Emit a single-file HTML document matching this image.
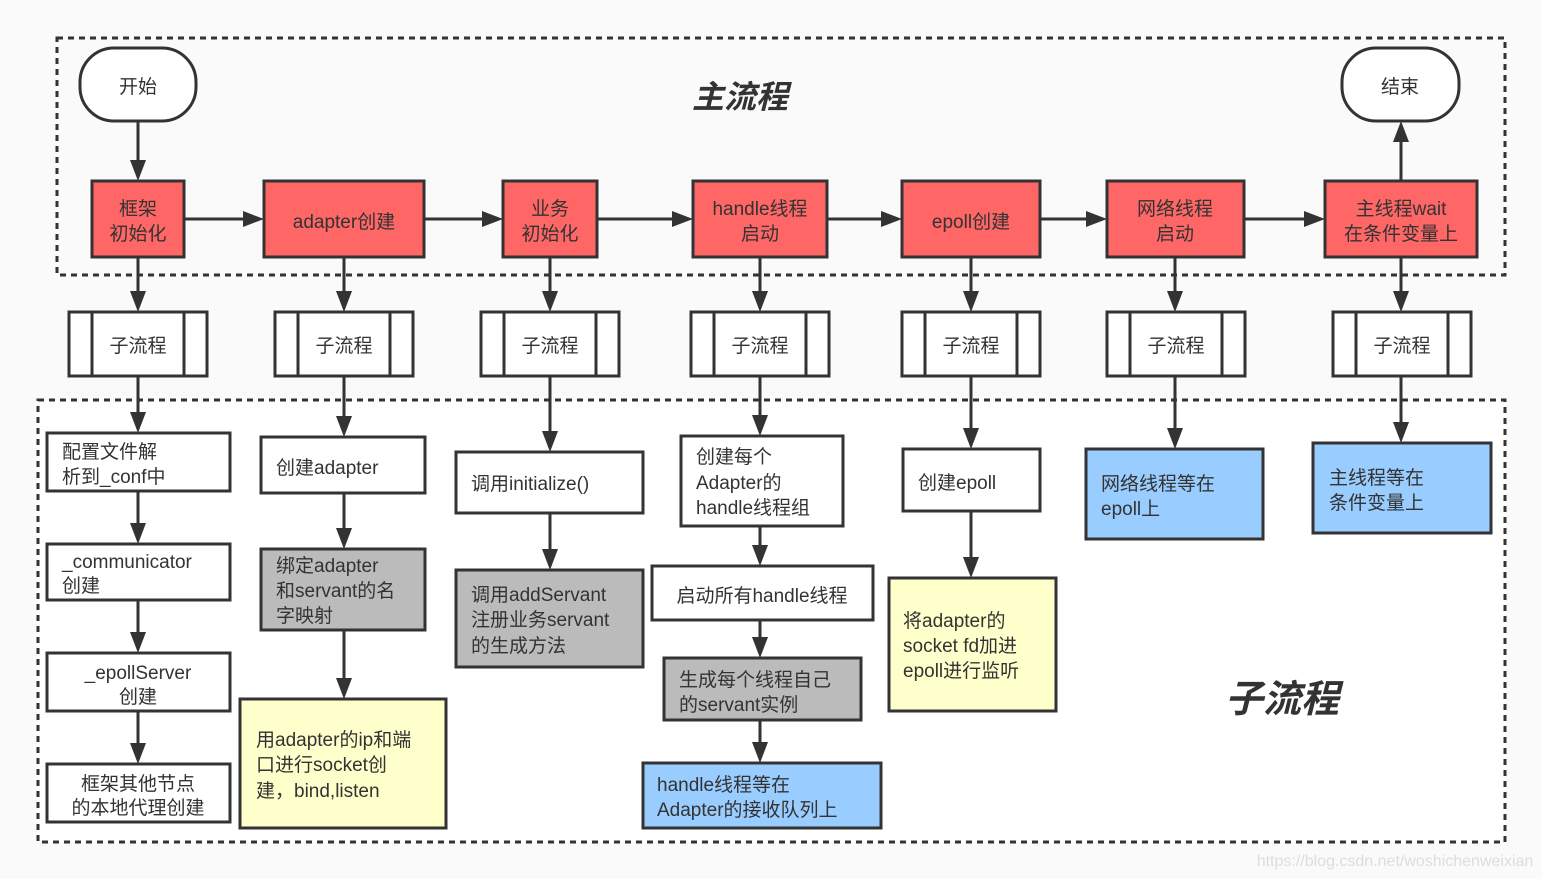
<!DOCTYPE html>
<html><head><meta charset="utf-8"><style>
html,body{margin:0;padding:0;background:#fafafa}
svg{display:block}
text{font-family:"Liberation Sans","Noto Sans CJK SC",sans-serif;font-size:19px;fill:#333}
.b{stroke:#333;stroke-width:3}
.l{stroke:#333;stroke-width:3;fill:none}
</style></head><body>
<svg width="1542" height="879" viewBox="0 0 1542 879" xmlns="http://www.w3.org/2000/svg">
<defs><marker id="a" viewBox="0 0 10 10" refX="9" refY="5" markerWidth="5" markerHeight="5" markerUnits="userSpaceOnUse" orient="auto" style="overflow:visible"><path d="M-6,-3 L10,5 L-6,13 z" fill="#333" transform="scale(1)"/></marker></defs>
<rect x="0" y="0" width="1542" height="879" fill="#fafafa"/>
<rect x="38" y="400" width="1467" height="442" fill="#fff" stroke="#333" stroke-width="3" stroke-dasharray="6,5"/>
<rect x="57" y="38" width="1448" height="237" fill="none" stroke="#333" stroke-width="3" stroke-dasharray="6,5"/>

<text x="740" y="108" text-anchor="middle" style="font-size:32px;font-style:italic;font-weight:bold">主流程</text>
<text x="1282" y="712" text-anchor="middle" style="font-size:38px;font-style:italic;font-weight:bold">子流程</text>
<text x="1395" y="866" text-anchor="middle" style="font-size:16px;fill:#ddd">https://blog.csdn.net/woshichenweixian</text>

<!-- connectors -->
<g class="l">
<path d="M138 121 V170"/><path d="M1401 181 V132"/>
<path d="M184 219 H253"/><path d="M424 219 H492"/><path d="M597 219 H682"/><path d="M827 219 H891"/><path d="M1040 219 H1096"/><path d="M1244 219 H1314"/>
<path d="M138 257 V301"/><path d="M344 257 V301"/><path d="M550 257 V301"/><path d="M760 257 V301"/><path d="M971 257 V301"/><path d="M1175 257 V301"/><path d="M1401 257 V301"/>
<path d="M138 376 V422"/><path d="M344 376 V426"/><path d="M550 376 V441"/><path d="M760 376 V425"/><path d="M971 376 V438"/><path d="M1175 376 V438"/><path d="M1401 376 V432"/>
<path d="M138 491 V533"/><path d="M138 600 V642"/><path d="M138 711 V753"/>
<path d="M344 493 V538"/><path d="M344 630 V688"/>
<path d="M550 513 V559"/>
<path d="M760 526 V555"/><path d="M760 620 V647"/><path d="M760 720 V752"/>
<path d="M971 511 V567"/>
</g>
<g fill="#333">
<path d="M130 160 L146 160 L138 181 z"/>
<path d="M1393 142 L1409 142 L1401 121 z"/>
<g id="ha"><path d="M0 0"/></g>
<path d="M243 211 L264 219 L243 227 z"/><path d="M482 211 L503 219 L482 227 z"/><path d="M672 211 L693 219 L672 227 z"/><path d="M881 211 L902 219 L881 227 z"/><path d="M1086 211 L1107 219 L1086 227 z"/><path d="M1304 211 L1325 219 L1304 227 z"/>
<path d="M130 291 L146 291 L138 312 z"/><path d="M336 291 L352 291 L344 312 z"/><path d="M542 291 L558 291 L550 312 z"/><path d="M752 291 L768 291 L760 312 z"/><path d="M963 291 L979 291 L971 312 z"/><path d="M1167 291 L1183 291 L1175 312 z"/><path d="M1393 291 L1409 291 L1401 312 z"/>
<path d="M130 412 L146 412 L138 433 z"/><path d="M336 416 L352 416 L344 437 z"/><path d="M542 431 L558 431 L550 452 z"/><path d="M752 415 L768 415 L760 436 z"/><path d="M963 428 L979 428 L971 449 z"/><path d="M1167 428 L1183 428 L1175 449 z"/><path d="M1393 422 L1409 422 L1401 443 z"/>
<path d="M130 523 L146 523 L138 544 z"/><path d="M130 632 L146 632 L138 653 z"/><path d="M130 743 L146 743 L138 764 z"/>
<path d="M336 528 L352 528 L344 549 z"/><path d="M336 678 L352 678 L344 699 z"/>
<path d="M542 549 L558 549 L550 570 z"/>
<path d="M752 545 L768 545 L760 566 z"/><path d="M752 637 L768 637 L760 658 z"/><path d="M752 742 L768 742 L760 763 z"/>
<path d="M963 557 L979 557 L971 578 z"/>
</g>

<!-- start/end -->
<rect class="b" x="80" y="48" width="116" height="73" rx="34" fill="#fff"/>
<text x="138" y="93" text-anchor="middle">开始</text>
<rect class="b" x="1342" y="48" width="117" height="73" rx="34" fill="#fff"/>
<text x="1400" y="93" text-anchor="middle">结束</text>

<!-- red boxes -->
<g fill="#ff6666">
<rect class="b" x="92" y="181" width="92" height="76"/>
<rect class="b" x="264" y="181" width="160" height="76"/>
<rect class="b" x="503" y="181" width="94" height="76"/>
<rect class="b" x="693" y="181" width="134" height="76"/>
<rect class="b" x="902" y="181" width="138" height="76"/>
<rect class="b" x="1107" y="181" width="137" height="76"/>
<rect class="b" x="1325" y="181" width="152" height="76"/>
</g>
<g text-anchor="middle">
<text x="138" y="215">框架</text><text x="138" y="240">初始化</text>
<text x="344" y="228">adapter创建</text>
<text x="550" y="215">业务</text><text x="550" y="240">初始化</text>
<text x="760" y="215">handle线程</text><text x="760" y="240">启动</text>
<text x="971" y="228">epoll创建</text>
<text x="1175" y="215">网络线程</text><text x="1175" y="240">启动</text>
<text x="1401" y="215">主线程wait</text><text x="1401" y="240">在条件变量上</text>
</g>

<!-- subprocess -->
<g fill="#fff">
<rect class="b" x="69" y="312" width="138" height="64"/><path class="l" d="M92 312V376M184 312V376"/>
<rect class="b" x="275" y="312" width="138" height="64"/><path class="l" d="M298 312V376M390 312V376"/>
<rect class="b" x="481" y="312" width="138" height="64"/><path class="l" d="M504 312V376M596 312V376"/>
<rect class="b" x="691" y="312" width="138" height="64"/><path class="l" d="M714 312V376M806 312V376"/>
<rect class="b" x="902" y="312" width="138" height="64"/><path class="l" d="M925 312V376M1017 312V376"/>
<rect class="b" x="1107" y="312" width="138" height="64"/><path class="l" d="M1130 312V376M1222 312V376"/>
<rect class="b" x="1333" y="312" width="138" height="64"/><path class="l" d="M1356 312V376M1448 312V376"/>
</g>
<g text-anchor="middle">
<text x="138" y="352">子流程</text><text x="344" y="352">子流程</text><text x="550" y="352">子流程</text><text x="760" y="352">子流程</text><text x="971" y="352">子流程</text><text x="1176" y="352">子流程</text><text x="1402" y="352">子流程</text>
</g>

<!-- col1 -->
<g fill="#fff">
<rect class="b" x="47" y="433" width="183" height="58"/>
<rect class="b" x="47" y="544" width="183" height="56"/>
<rect class="b" x="47" y="653" width="183" height="58"/>
<rect class="b" x="47" y="764" width="183" height="58"/>
<rect class="b" x="261" y="437" width="164" height="56"/>
<rect class="b" x="456" y="452" width="187" height="61"/>
<rect class="b" x="681" y="436" width="162" height="90"/>
<rect class="b" x="652" y="566" width="221" height="54"/>
<rect class="b" x="903" y="449" width="137" height="62"/>
</g>
<rect class="b" x="261" y="549" width="164" height="81" fill="#bbbbbb"/>
<rect class="b" x="456" y="570" width="187" height="97" fill="#bbbbbb"/>
<rect class="b" x="664" y="658" width="197" height="62" fill="#bbbbbb"/>
<rect class="b" x="240" y="699" width="206" height="129" fill="#ffffcc"/>
<rect class="b" x="889" y="578" width="167" height="133" fill="#ffffcc"/>
<rect class="b" x="643" y="763" width="238" height="65" fill="#99ccff"/>
<rect class="b" x="1086" y="449" width="177" height="90" fill="#99ccff"/>
<rect class="b" x="1313" y="443" width="178" height="90" fill="#99ccff"/>

<text x="62" y="458">配置文件解</text><text x="62" y="483">析到_conf中</text>
<text x="62" y="568">_communicator</text><text x="62" y="592">创建</text>
<text x="138" y="679" text-anchor="middle">_epollServer</text><text x="138" y="703" text-anchor="middle">创建</text>
<text x="138" y="790" text-anchor="middle">框架其他节点</text><text x="138" y="814" text-anchor="middle">的本地代理创建</text>
<text x="276" y="474">创建adapter</text>
<text x="276" y="572">绑定adapter</text><text x="276" y="597">和servant的名</text><text x="276" y="622">字映射</text>
<text x="256" y="746">用adapter的ip和端</text><text x="256" y="771">口进行socket创</text><text x="256" y="797">建，bind,listen</text>
<text x="471" y="490">调用initialize()</text>
<text x="471" y="601">调用addServant</text><text x="471" y="626">注册业务servant</text><text x="471" y="652">的生成方法</text>
<text x="696" y="463">创建每个</text><text x="696" y="489">Adapter的</text><text x="696" y="514">handle线程组</text>
<text x="762" y="602" text-anchor="middle">启动所有handle线程</text>
<text x="679" y="686">生成每个线程自己</text><text x="679" y="711">的servant实例</text>
<text x="657" y="791">handle线程等在</text><text x="657" y="816">Adapter的接收队列上</text>
<text x="918" y="489">创建epoll</text>
<text x="903" y="627">将adapter的</text><text x="903" y="652">socket fd加进</text><text x="903" y="677">epoll进行监听</text>
<text x="1101" y="490">网络线程等在</text><text x="1101" y="515">epoll上</text>
<text x="1329" y="484">主线程等在</text><text x="1329" y="509">条件变量上</text>
</svg>
</body></html>
